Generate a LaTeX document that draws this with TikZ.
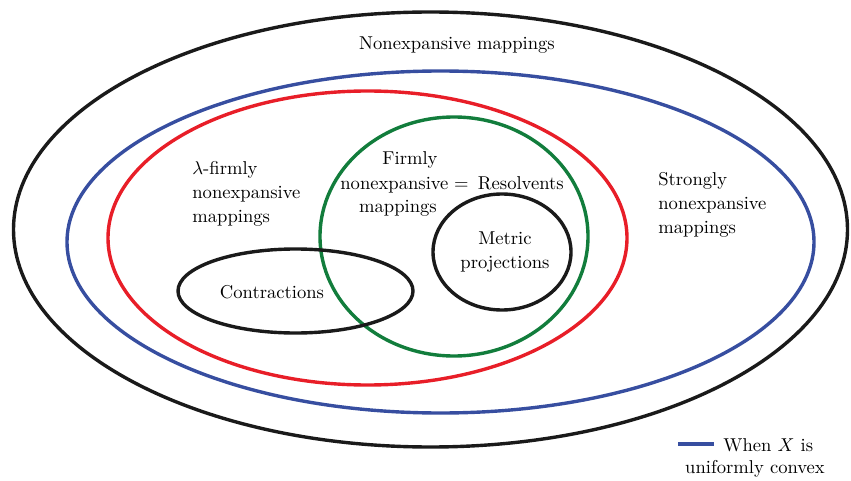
\documentclass[tikz,border=0pt]{standalone}
\definecolor{eblack}{RGB}{26,26,26}
\definecolor{eblue}{RGB}{55,78,160}
\definecolor{ered}{RGB}{232,30,40}
\definecolor{egreen}{RGB}{18,125,60}
\begin{document}
\begin{tikzpicture}[x=1pt,y=1pt,
  ring/.style={line width=3.4pt},
  lbl/.style={inner sep=0pt,scale=1.86,transform shape,font=\fontsize{10}{12.9}\selectfont}]
\useasboundingbox (0,0) rectangle (851,480);
% ellipses (pixel coords, y flipped)
\draw[ring,eblack] (430.5,250.5) ellipse [x radius=417,y radius=217.5];
\draw[ring,eblue] (440.5,238) ellipse [x radius=373.5,y radius=171];
\draw[ring,ered] (367.5,242) ellipse [x radius=259.5,y radius=147];
\draw[ring,egreen] (454,243.5) ellipse [x radius=134,y radius=119.5];
\draw[ring,eblack] (502,228) ellipse [x radius=69,y radius=58];
\draw[ring,eblack] (295.5,189) ellipse [x radius=117.5,y radius=42];
% labels
\node[lbl] (nm) at (457,435) {Nonexpansive mappings};
\node[lbl,align=left,anchor=west] (lf) at (192,286) {$\lambda$-firmly\\nonexpansive\\mappings};
\node[lbl,anchor=base] (fm1) at (410,315) {Firmly};
\node[lbl,anchor=base west] (fm2) at (340,291) {nonexpansive};
\node[lbl,anchor=base] (fm3) at (398,268) {mappings};
\node[lbl,anchor=base west] (res) at ([xshift=5pt]fm2.base east) {$=$\hspace{5pt}Resolvents};
\node[lbl,align=left,anchor=west] (sn) at (658,275) {Strongly\\nonexpansive\\mappings};
\node[lbl,align=center] (mp) at (505,228) {Metric\\projections};
\node[lbl] (ct) at (272,188) {Contractions};
% legend
\coordinate (l1) at (678,36);
\coordinate (l2) at (714,36);
\draw[eblue,line width=3.4pt] (l1) -- (l2);
\node[lbl,anchor=west] (lw) at (723,35) {When $X$ is};
\node[lbl] (lu) at (755,11) {uniformly convex};
\end{tikzpicture}
\end{document}
